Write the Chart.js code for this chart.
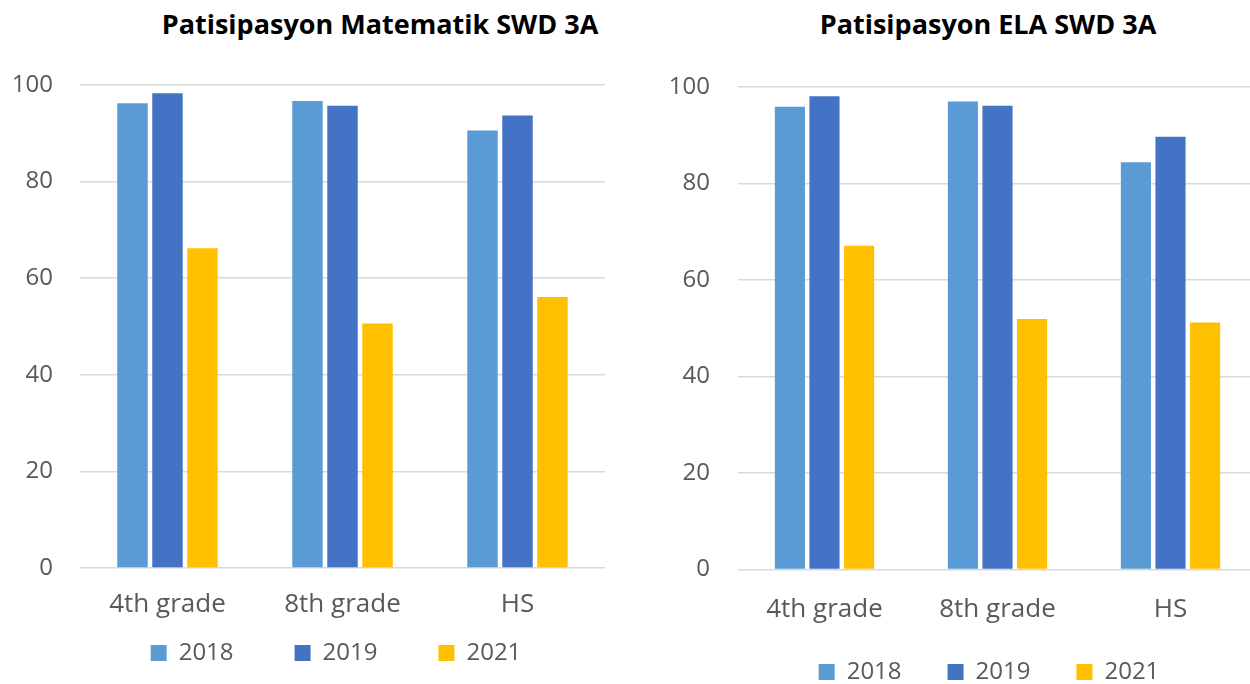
<!DOCTYPE html>
<html>
<head>
<meta charset="utf-8">
<script src="https://cdn.jsdelivr.net/npm/chart.js@4/dist/chart.umd.min.js"></script>
<style>
    html, body {
        margin: 0;
        padding: 0;
        width: 1250px;
        height: 684px;
        overflow: hidden;
        background: #ffffff;
    }
    .chart-title {
        position: absolute;
        top: 5px;
        width: 600px;
        text-align: center;
        font-family: "Open Sans", sans-serif;
        font-weight: bold;
        font-size: 27px;
        color: #000000;
        white-space: nowrap;
    }
    .chart-box {
        position: absolute;
        top: 0;
    }
</style>
</head>
<body>
<div class="chart-title" style="left: 80px;">Patisipasyon Matematik SWD 3A</div>
<div class="chart-title" style="left: 688px;">Patisipasyon ELA SWD 3A</div>

<div class="chart-box" style="left: 0; width: 672px; height: 675px;">
    <canvas id="mathChart"></canvas>
</div>
<div class="chart-box" style="left: 640px; width: 698px; height: 694px;">
    <canvas id="elaChart"></canvas>
</div>

<script>
    // Категории и серии
    const categories = ['4th grade', '8th grade', 'HS'];
    const years = ['2018', '2019', '2021'];
    const yearColors = ['#5b9bd5', '#4472c4', '#ffc000'];

    const math2018 = [96.2, 96.7, 90.6];
    const math2019 = [98.3, 95.7, 93.7];
    const math2021 = [66.2, 50.6, 56.1];

    const ela2018 = [95.9, 97.0, 84.4];
    const ela2019 = [98.1, 96.1, 89.7];
    const ela2021 = [67.1, 51.9, 51.2];

    const yMin = 0;
    const yMax = 100;
    const yStep = 20;

    const TEXT_COLOR = '#595959';
    const GRID_COLOR = '#d9d9d9';
    const FONT = {family: '"Open Sans", sans-serif', size: 24};
    const X_FONT = {family: '"Open Sans", sans-serif', size: 26};

    Chart.defaults.animation = false;

    function prepareChartData(seriesList) {
        return {
            labels: categories,
            datasets: seriesList.map((values, i) => ({
                label: years[i],
                data: values,
                backgroundColor: yearColors[i],
                categoryPercentage: 0.6,
                barPercentage: 0.87
            }))
        };
    }

    // layoutSet: ширина оси Y, пустая правая ось (центрирует легенду), отступы подписей
    function renderChart(canvasId, seriesList, layoutSet) {
        const options = {
            responsive: true,
            maintainAspectRatio: false,
            layout: {
                padding: {left: 0, right: 0, top: layoutSet.padTop, bottom: 0}
            },
            plugins: {
                legend: {
                    display: true,
                    position: 'bottom',
                    labels: {
                        boxWidth: 16,
                        boxHeight: 16,
                        padding: layoutSet.legendPadding,
                        color: TEXT_COLOR,
                        font: FONT
                    }
                },
                tooltip: {enabled: false}
            },
            scales: {
                x: {
                    grid: {display: false, drawTicks: false},
                    border: {display: false},
                    ticks: {
                        color: TEXT_COLOR,
                        font: X_FONT,
                        mirror: true,
                        maxRotation: 0,
                        padding: layoutSet.xPadding
                    },
                    afterFit: (scale) => {
                        scale.height = layoutSet.xHeight;
                    }
                },
                y: {
                    min: yMin,
                    max: yMax,
                    grid: {color: GRID_COLOR, lineWidth: 1.5, drawTicks: false},
                    border: {display: false},
                    ticks: {stepSize: yStep, color: TEXT_COLOR, font: FONT, padding: layoutSet.yPadding},
                    afterFit: (scale) => {
                        scale.width = layoutSet.yWidth;
                    }
                },
                spacer: {
                    type: 'linear',
                    position: 'right',
                    grid: {display: false, drawTicks: false},
                    border: {display: false},
                    ticks: {display: false},
                    afterFit: (scale) => {
                        scale.width = layoutSet.spacerWidth;
                    }
                }
            }
        };

        return new Chart(document.getElementById(canvasId), {
            type: 'bar',
            data: prepareChartData(seriesList),
            options: options
        });
    }

    renderChart('mathChart', [math2018, math2019, math2021], {
        padTop: 85, yWidth: 80, yPadding: 27, spacerWidth: 67,
        xHeight: 12, xPadding: -52.6, legendPadding: 61
    });

    renderChart('elaChart', [ela2018, ela2019, ela2021], {
        padTop: 87, yWidth: 98, yPadding: 28, spacerWidth: 81,
        xHeight: 44.5, xPadding: -56.1, legendPadding: 46
    });
</script>
</body>
</html>
